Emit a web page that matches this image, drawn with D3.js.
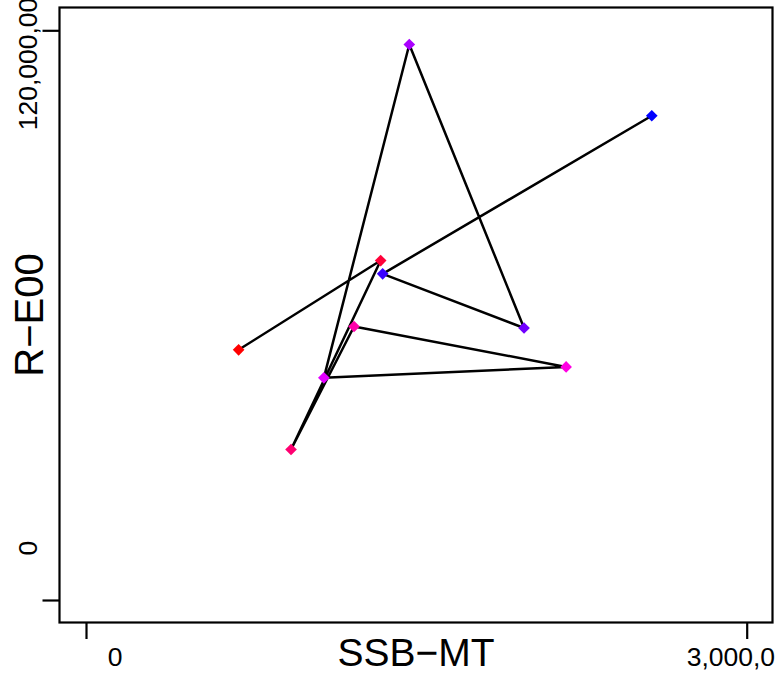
<!DOCTYPE html>
<html>
<head>
<meta charset="utf-8">
<script src="https://cdn.jsdelivr.net/npm/d3@7"></script>
<style>
  body { margin: 0; background: #fff; }
  svg text { font-family: "Liberation Sans", Arial, sans-serif; fill: #000; }
</style>
</head>
<body>
<div id="chart"></div>
<script>
// values, in plotting order
var ssb = [693000, 1338000, 931000, 1217000, 2180000, 1080000, 1468000, 1989000, 1347000, 2569000];
var rec = [52.7e6, 71.5e6, 31.7e6, 57.6e6, 49.1e6, 46.8e6, 117.0e6, 57.3e6, 68.7e6, 102.0e6];
var xTicks = [0, 3000000];
var yTicks = [0, 120000000];
var xTickLabels = ["0", "3,000,000"];
var yTickLabels = ["0", "120,000,000"];

var width = 775, height = 673;
var box = { left: 59.5, top: 7.5, right: 772.5, bottom: 622.5 };

var svg = d3.select("#chart").append("svg")
    .attr("width", width)
    .attr("height", height);

var x = d3.scaleLinear().domain([0, 3000000]).range([86, 746.7]);
var y = d3.scaleLinear().domain([0, 120000000]).range([600, 30.3]);

// colour ramp red -> magenta -> blue along the sequence
var col = d3.scaleLinear()
    .domain([0, (ssb.length - 1) / 2, ssb.length - 1])
    .range(["#ff0000", "#ff00ff", "#0000ff"]);

// axes (ticks only, labels placed below)
svg.append("g")
    .attr("transform", "translate(0," + box.bottom + ")")
    .call(d3.axisBottom(x).tickValues(xTicks).tickFormat("").tickSizeOuter(0).tickSize(16.5))
    .call(function (g) { g.select(".domain").remove(); })
    .selectAll("line").attr("stroke", "#000").attr("stroke-width", 2.2);

svg.append("g")
    .attr("transform", "translate(" + box.left + ",0)")
    .call(d3.axisLeft(y).tickValues(yTicks).tickFormat("").tickSizeOuter(0).tickSize(17))
    .call(function (g) { g.select(".domain").remove(); })
    .selectAll("line").attr("stroke", "#000").attr("stroke-width", 2.2);

// tick labels
svg.append("text").attr("x", x(xTicks[0]) + 29).attr("y", 665.5)
    .attr("text-anchor", "middle").style("font-size", "26.5px").text(xTickLabels[0]);
svg.append("text").attr("x", x(xTicks[1]) - 60).attr("y", 665.5)
    .attr("text-anchor", "start").style("font-size", "26.5px").text(xTickLabels[1]);

svg.append("text").attr("transform", "translate(37," + (y(yTicks[0]) - 52) + ") rotate(-90)")
    .attr("text-anchor", "middle").style("font-size", "26.5px").text(yTickLabels[0]);
svg.append("text").attr("transform", "translate(37," + (y(yTicks[1]) + 100) + ") rotate(-90)")
    .attr("text-anchor", "start").style("font-size", "26.5px").text(yTickLabels[1]);

// axis titles
svg.append("text").attr("x", (box.left + box.right) / 2).attr("y", 665.5)
    .attr("text-anchor", "middle").style("font-size", "39px").text("SSB\u2212MT");
svg.append("text").attr("transform", "translate(42.5," + (box.top + box.bottom) / 2 + ") rotate(-90)")
    .attr("text-anchor", "middle").style("font-size", "40px").text("R\u2212E00");

// plot box
svg.append("rect")
    .attr("x", box.left).attr("y", box.top)
    .attr("width", box.right - box.left).attr("height", box.bottom - box.top)
    .attr("fill", "none").attr("stroke", "#000").attr("stroke-width", 2.2);

// connecting path
var idx = d3.range(ssb.length);
var line = d3.line()
    .x(function (i) { return x(ssb[i]); })
    .y(function (i) { return y(rec[i]); });

svg.append("path")
    .datum(idx)
    .attr("d", line)
    .attr("fill", "none")
    .attr("stroke", "#000")
    .attr("stroke-width", 2.5)
    .attr("stroke-linejoin", "round");

// diamonds
var diamond = d3.symbol().type(d3.symbolSquare).size(68);
svg.selectAll(".pt")
    .data(idx)
    .enter().append("path")
    .attr("class", "pt")
    .attr("d", diamond)
    .attr("transform", function (i) {
        return "translate(" + x(ssb[i]) + "," + y(rec[i]) + ") rotate(45)";
    })
    .attr("fill", function (i) { return col(i); });
</script>
</body>
</html>
